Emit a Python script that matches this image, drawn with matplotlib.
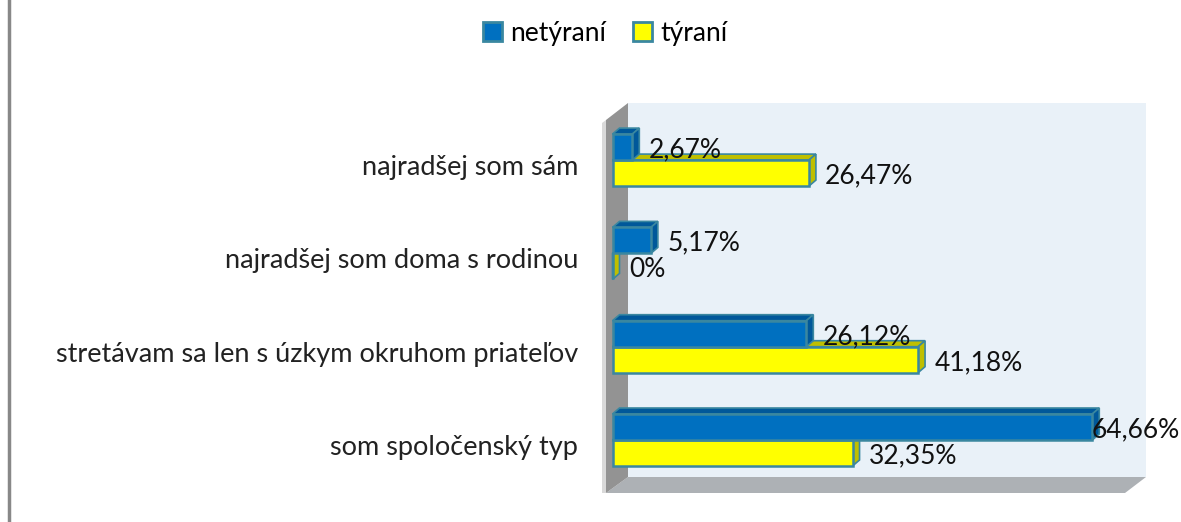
import matplotlib.pyplot as plt
from matplotlib.patches import Polygon, Rectangle, Patch
from matplotlib.lines import Line2D

# data
categories = ["som spoločenský typ",
              "stretávam sa len s úzkym okruhom priateľov",
              "najradšej som doma s rodinou",
              "najradšej som sám"]
netyrani = [64.66, 26.12, 5.17, 2.67]
tyrani = [32.35, 41.18, 0.0, 26.47]
labels_net = ["64,66%", "26,12%", "5,17%", "2,67%"]
labels_tyr = ["32,35%", "41,18%", "0%", "26,47%"]
series_names = ["netýraní", "týraní"]

plt.rcParams['font.family'] = ['Lato', 'DejaVu Sans']

W, H = 1181, 522
fig = plt.figure(figsize=(W / 100, H / 100), dpi=100)
fig.patch.set_facecolor("white")

# axes box in pixels, data scale chosen so bars line up with the reference
SX, SY = 7.42, 93.3          # px per % and px per category
X0, YC0 = 612.5, 440          # pixel of value 0 / category 0
px_l, px_r, py_t, py_b = 590, 1170, 90, 505
ax = fig.add_axes([px_l / W, 1 - py_b / H, (px_r - px_l) / W, (py_b - py_t) / H])
ax.set_xlim((px_l - X0) / SX, (px_r - X0) / SX)
ax.set_ylim((YC0 - py_b) / SY, (YC0 - py_t) / SY)
ax.axis("off")


def d(px, py):
    return ((px - X0) / SX, (YC0 - py) / SY)


# walls
ax.add_patch(Polygon([d(628, 103), d(1146, 103), d(1146, 477), d(628, 477)],
                     closed=True, facecolor="#e9f1f8", edgecolor="none"))
ax.add_patch(Polygon([d(606, 493), d(1125, 493), d(1146, 477), d(628, 477)],
                     closed=True, facecolor="#adb1b5", edgecolor="none"))
ax.add_patch(Polygon([d(606, 493), d(606, 120), d(628, 103), d(628, 477)],
                     closed=True, facecolor="#939393", edgecolor="none"))
ax.add_patch(Polygon([d(602, 493), d(602, 123), d(606, 120), d(606, 493)],
                     closed=True, facecolor="#d9d9d9", edgecolor="none"))

h = 26 / SY
dx, dy = 7 / SX, 6 / SY
edge = "#3a87a0"


def bar3d(v, yc, front, dark):
    b, t = yc - h / 2, yc + h / 2
    ax.add_patch(Polygon([(0, t), (v, t), (v + dx, t + dy), (dx, t + dy)],
                         closed=True, facecolor=dark, edgecolor=edge, lw=1.2))
    ax.add_patch(Polygon([(v, b), (v, t), (v + dx, t + dy), (v + dx, b + dy)],
                         closed=True, facecolor=dark, edgecolor=edge, lw=1.2))
    ax.add_patch(Rectangle((0, b), v, h, facecolor=front, edgecolor=edge, lw=1.8))


xmax_lab = (1092 - X0) / SX
for i in range(len(categories)):
    yb, yy = i + h / 2, i - h / 2
    bar3d(tyrani[i], yy, "#ffff00", "#bfbf00")
    bar3d(netyrani[i], yb, "#0070c0", "#00589a")
    ax.text(min(tyrani[i] + 2.2, xmax_lab), yy - 0.03, labels_tyr[i],
            fontsize=19, va="center", ha="left", color="#111111")
    ax.text(min(netyrani[i] + 2.2, xmax_lab), yb - 0.03, labels_net[i],
            fontsize=19, va="center", ha="left", color="#111111")
    ax.text((578 - X0) / SX, i - 0.08, categories[i], fontsize=19.5,
            va="center", ha="right", color="#222222")

# left border line
fig.add_artist(Line2D([8.5 / W, 8.5 / W], [0, 1], color="#888888", lw=2.5))

handles = [Patch(facecolor="#0070c0", edgecolor=edge, lw=2),
           Patch(facecolor="#ffff00", edgecolor=edge, lw=2)]
fig.legend(handles, series_names, loc="center", bbox_to_anchor=(605 / W, 1 - 33 / H),
           ncol=2, frameon=False, fontsize=19, handlelength=0.75, handleheight=0.75,
           handletextpad=0.3, columnspacing=1.0)

fig.savefig("out.png", dpi=100)
